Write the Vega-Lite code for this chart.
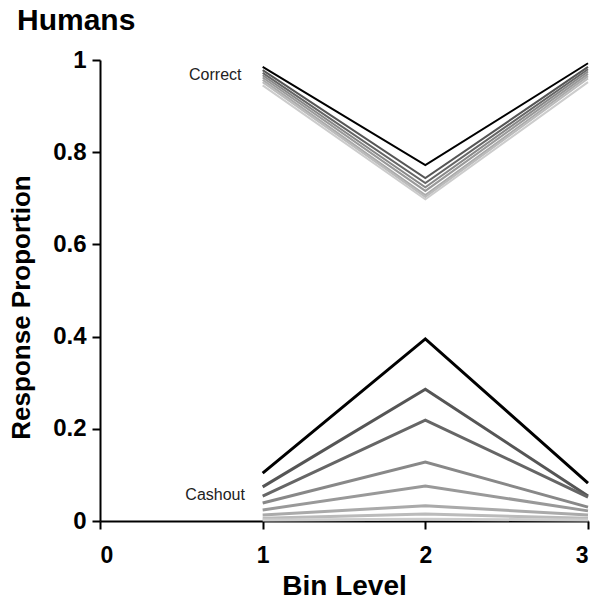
{
  "$schema": "https://vega.github.io/schema/vega-lite/v6.json",
  "autosize": "none",
  "width": 488,
  "height": 461,
  "padding": {"left": 100, "top": 60, "right": 16, "bottom": 85},
  "background": "white",
  "config": {
    "view": {"stroke": null},
    "font": "Liberation Sans"
  },
  "title": {
    "text": "Humans",
    "anchor": "start",
    "frame": "group",
    "dx": -83,
    "dy": 28,
    "offset": 16,
    "baseline": "alphabetic",
    "fontSize": 30,
    "fontWeight": "bold",
    "color": "#000",
    "font": "Liberation Sans"
  },
  "datasets": {
    "lines": [
      {"kind": "Correct", "series": 1, "bin": 1, "value": 0.985},
      {"kind": "Correct", "series": 1, "bin": 2, "value": 0.772},
      {"kind": "Correct", "series": 1, "bin": 3, "value": 0.993},
      {"kind": "Correct", "series": 2, "bin": 1, "value": 0.978},
      {"kind": "Correct", "series": 2, "bin": 2, "value": 0.744},
      {"kind": "Correct", "series": 2, "bin": 3, "value": 0.985},
      {"kind": "Correct", "series": 3, "bin": 1, "value": 0.972},
      {"kind": "Correct", "series": 3, "bin": 2, "value": 0.733},
      {"kind": "Correct", "series": 3, "bin": 3, "value": 0.98},
      {"kind": "Correct", "series": 4, "bin": 1, "value": 0.967},
      {"kind": "Correct", "series": 4, "bin": 2, "value": 0.724},
      {"kind": "Correct", "series": 4, "bin": 3, "value": 0.975},
      {"kind": "Correct", "series": 5, "bin": 1, "value": 0.962},
      {"kind": "Correct", "series": 5, "bin": 2, "value": 0.716},
      {"kind": "Correct", "series": 5, "bin": 3, "value": 0.97},
      {"kind": "Correct", "series": 6, "bin": 1, "value": 0.957},
      {"kind": "Correct", "series": 6, "bin": 2, "value": 0.707},
      {"kind": "Correct", "series": 6, "bin": 3, "value": 0.965},
      {"kind": "Correct", "series": 7, "bin": 1, "value": 0.952},
      {"kind": "Correct", "series": 7, "bin": 2, "value": 0.703},
      {"kind": "Correct", "series": 7, "bin": 3, "value": 0.96},
      {"kind": "Correct", "series": 8, "bin": 1, "value": 0.945},
      {"kind": "Correct", "series": 8, "bin": 2, "value": 0.698},
      {"kind": "Correct", "series": 8, "bin": 3, "value": 0.952},
      {"kind": "Cashout", "series": 1, "bin": 1, "value": 0.104},
      {"kind": "Cashout", "series": 1, "bin": 2, "value": 0.395},
      {"kind": "Cashout", "series": 1, "bin": 3, "value": 0.082},
      {"kind": "Cashout", "series": 2, "bin": 1, "value": 0.074},
      {"kind": "Cashout", "series": 2, "bin": 2, "value": 0.286},
      {"kind": "Cashout", "series": 2, "bin": 3, "value": 0.054},
      {"kind": "Cashout", "series": 3, "bin": 1, "value": 0.054},
      {"kind": "Cashout", "series": 3, "bin": 2, "value": 0.219},
      {"kind": "Cashout", "series": 3, "bin": 3, "value": 0.052},
      {"kind": "Cashout", "series": 4, "bin": 1, "value": 0.039},
      {"kind": "Cashout", "series": 4, "bin": 2, "value": 0.128},
      {"kind": "Cashout", "series": 4, "bin": 3, "value": 0.03},
      {"kind": "Cashout", "series": 5, "bin": 1, "value": 0.024},
      {"kind": "Cashout", "series": 5, "bin": 2, "value": 0.076},
      {"kind": "Cashout", "series": 5, "bin": 3, "value": 0.022},
      {"kind": "Cashout", "series": 6, "bin": 1, "value": 0.013},
      {"kind": "Cashout", "series": 6, "bin": 2, "value": 0.033},
      {"kind": "Cashout", "series": 6, "bin": 3, "value": 0.013},
      {"kind": "Cashout", "series": 7, "bin": 1, "value": 0.006},
      {"kind": "Cashout", "series": 7, "bin": 2, "value": 0.015},
      {"kind": "Cashout", "series": 7, "bin": 3, "value": 0.006},
      {"kind": "Cashout", "series": 8, "bin": 1, "value": 0.002},
      {"kind": "Cashout", "series": 8, "bin": 2, "value": 0.004},
      {"kind": "Cashout", "series": 8, "bin": 3, "value": 0.002}
    ],
    "labels": [
      {"label": "Correct", "bin": 0.87, "value": 0.967},
      {"label": "Cashout", "bin": 0.891, "value": 0.056}
    ]
  },
  "layer": [
    {
      "data": {"name": "lines"},
      "transform": [{"filter": "datum.kind === 'Cashout'"}],
      "mark": {"type": "line", "strokeWidth": 3},
      "encoding": {
        "x": {
          "field": "bin", "type": "quantitative",
          "scale": {"domain": [0, 3], "nice": false, "zero": false},
          "axis": {
            "values": [0, 1, 2, 3],
            "format": "~g",
            "title": "Bin Level",
            "grid": false,
            "domainColor": "#000", "domainWidth": 2,
            "tickColor": "#000", "tickWidth": 2, "tickSize": 8,
            "labelFont": "Liberation Sans", "labelFontSize": 23, "labelFontWeight": "bold", "labelColor": "#000",
            "labelPadding": 15,
            "titleFont": "Liberation Sans", "titleFontSize": 28, "titleFontWeight": "bold", "titleColor": "#000",
            "titlePadding": 5
          }
        },
        "y": {
          "field": "value", "type": "quantitative",
          "scale": {"domain": [0, 1], "nice": false},
          "axis": {
            "values": [0, 0.2, 0.4, 0.6, 0.8, 1],
            "format": "~g",
            "title": "Response Proportion",
            "grid": false,
            "domainColor": "#000", "domainWidth": 2,
            "tickColor": "#000", "tickWidth": 2, "tickSize": 8,
            "labelFont": "Liberation Sans", "labelFontSize": 24, "labelFontWeight": "bold", "labelColor": "#000",
            "labelPadding": 6,
            "titleFont": "Liberation Sans", "titleFontSize": 26, "titleFontWeight": "bold", "titleColor": "#000",
            "titlePadding": 18,
            "titleY": 247,
            "titleAlign": "center"
          }
        },
        "detail": {"field": "series", "type": "nominal"},
        "color": {
          "field": "series", "type": "ordinal",
          "scale": {"domain": [1, 2, 3, 4, 5, 6, 7, 8], "range": ["#000000", "#555555", "#666666", "#888888", "#999999", "#aaaaaa", "#bbbbbb", "#cccccc"]},
          "legend": null
        }
      }
    },
    {
      "data": {"name": "lines"},
      "transform": [{"filter": "datum.kind === 'Correct'"}],
      "mark": {"type": "line", "strokeWidth": 2},
      "encoding": {
        "x": {"field": "bin", "type": "quantitative"},
        "y": {"field": "value", "type": "quantitative"},
        "detail": {"field": "series", "type": "nominal"},
        "color": {"field": "series", "type": "ordinal", "legend": null}
      }
    },
    {
      "data": {"name": "labels"},
      "mark": {"type": "text", "align": "right", "baseline": "middle", "fontSize": 16, "font": "Liberation Sans", "color": "#222"},
      "encoding": {
        "x": {"field": "bin", "type": "quantitative"},
        "y": {"field": "value", "type": "quantitative"},
        "text": {"field": "label", "type": "nominal"}
      }
    }
  ]
}
